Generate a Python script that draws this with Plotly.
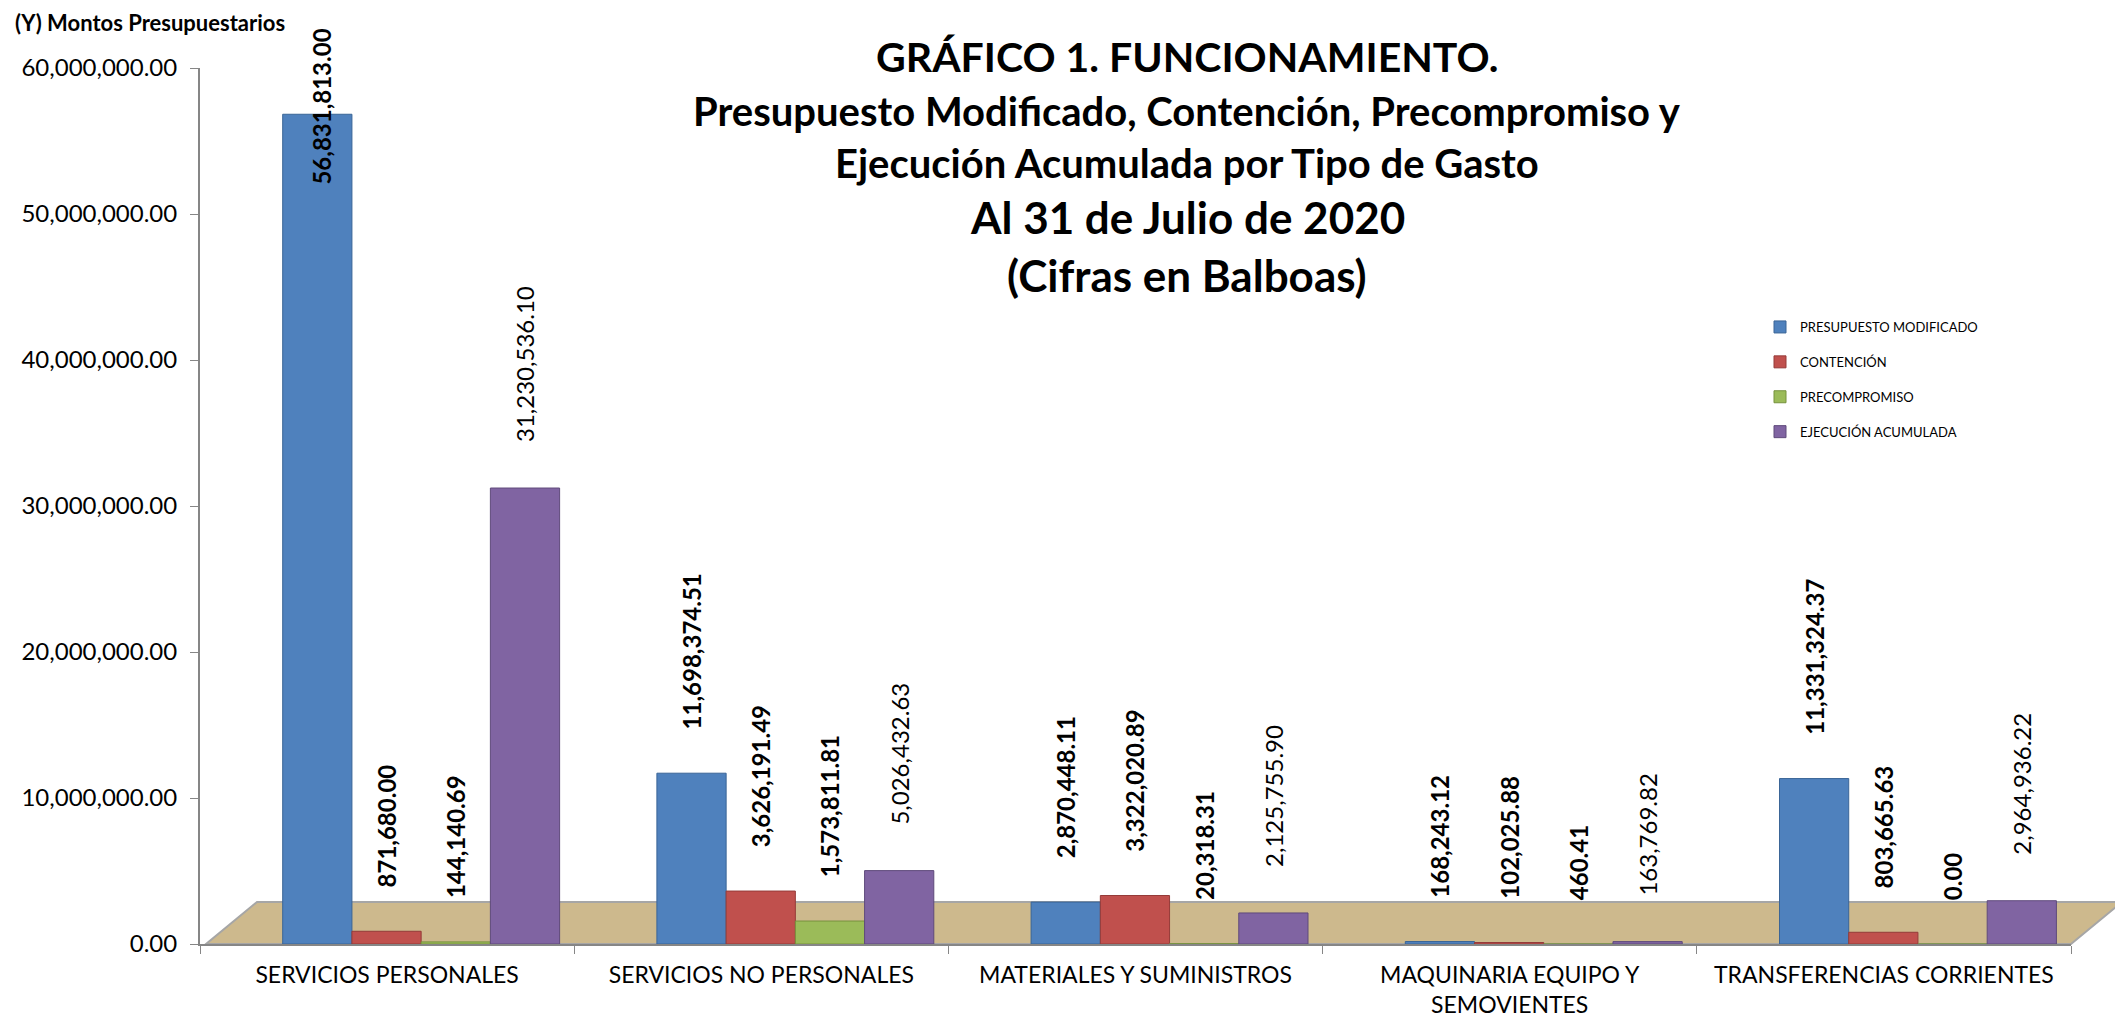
import plotly.graph_objects as go

categories = ["SERVICIOS PERSONALES", "SERVICIOS NO PERSONALES", "MATERIALES Y SUMINISTROS",
              "MAQUINARIA EQUIPO Y<br>SEMOVIENTES", "TRANSFERENCIAS CORRIENTES"]
presupuesto_modificado = [56831813.00, 11698374.51, 2870448.11, 168243.12, 11331324.37]
contencion = [871680.00, 3626191.49, 3322020.89, 102025.88, 803665.63]
precompromiso = [144140.69, 1573811.81, 20318.31, 460.41, 0.00]
ejecucion_acumulada = [31230536.10, 5026432.63, 2125755.90, 163769.82, 2964936.22]
series_names = ["PRESUPUESTO MODIFICADO", "CONTENCIÓN", "PRECOMPROMISO", "EJECUCIÓN ACUMULADA"]
y_ticks = [0, 10000000, 20000000, 30000000, 40000000, 50000000, 60000000]

# screen geometry (browser body has an 8px default margin)
OFF = 8
SW, SH = 2123, 1023
W, H = SW - OFF, SH - OFF
L, R, T, B = 200, 2071, 68, 944   # plot area in screen pixels

def px(x):
    return (x - L) / (R - L)

def py(y):
    return (B - y) / (B - T)

colors = ["#4F81BD", "#C0504D", "#9BBB59", "#8064A2"]
lines = ["#3A6597", "#953B39", "#76923C", "#5F4A7B"]
bold = [True, True, True, False]
series = [presupuesto_modificado, contencion, precompromiso, ejecucion_acumulada]
bw = 0.185
offsets = [-0.279, -0.094, 0.091, 0.276]
pad = "\u00a0" * 7
cat_px = (R - L) / len(categories)

fig = go.Figure()
ann = []
for i, (name, vals) in enumerate(zip(series_names, series)):
    ymax = y_ticks[-1]
    big = [v > 0.9 * ymax for v in vals]
    tmpl = ("<b>" + pad + "%{y:,.2f}</b>") if bold[i] else (pad + "%{y:,.2f}")
    texttemplates = ["" if b else tmpl for b in big]
    fig.add_trace(go.Bar(
        x=categories, y=vals, name=name,
        marker=dict(color=colors[i], line=dict(color=lines[i], width=1)),
        width=bw, offset=offsets[i],
        texttemplate=texttemplates, textposition="outside", textangle=-90,
        constraintext="none", cliponaxis=False,
        textfont=dict(family="Lato", size=24, color="black"),
        legendgroup=name, hoverinfo="skip",
    ))
    for cat, v, b in zip(categories, vals, big):
        if b:
            txt = f"{v:,.2f}"
            if bold[i]:
                txt = "<b>" + txt + "</b>"
            ann.append(dict(text=txt, x=cat, y=v, xref="x", yref="y", textangle=-90,
                            xshift=(offsets[i] + bw / 2) * cat_px + 4, yshift=8,
                            yanchor="middle", xanchor="center", showarrow=False,
                            font=dict(family="Lato", size=24, color="black")))

# floor (decorative)
floor_path = "M {} {} L {} {} L {} {} L {} {} Z".format(
    px(206), py(944), px(2071), py(944), px(2122), py(902), px(257), py(902))
shapes = [dict(type="path", path=floor_path, xref="paper", yref="paper",
               fillcolor="#CDB98D", line=dict(color="#A6A6A6", width=2), layer="below")]

ann.append(dict(text="<b>(Y) Montos Presupuestarios</b>", x=px(13), y=py(23), xref="paper", yref="paper",
                xanchor="left", yanchor="middle", showarrow=False,
                font=dict(family="Lato", size=22, color="black")))
title_lines = [("GRÁFICO 1. FUNCIONAMIENTO.", 41, 57),
               ("Presupuesto Modificado, Contención, Precompromiso y", 40, 111),
               ("Ejecución Acumulada por Tipo de Gasto", 40, 163),
               ("Al 31 de Julio de 2020", 44, 217),
               ("(Cifras en Balboas)", 44, 275)]
for txt, sz, yy in title_lines:
    ann.append(dict(text="<b>" + txt + "</b>", x=px(1187), y=py(yy), xref="paper", yref="paper",
                    xanchor="center", yanchor="middle", showarrow=False,
                    font=dict(family="Lato", size=sz, color="black")))

fig.update_layout(
    width=W, height=H,
    margin=dict(l=L - OFF, r=SW - R, t=T - OFF, b=SH - B, autoexpand=False),
    paper_bgcolor="white", plot_bgcolor="rgba(0,0,0,0)",
    barmode="group", bargap=0.26, bargroupgap=0,
    showlegend=True,
    legend=dict(x=px(1760), y=py(312), xanchor="left", yanchor="top",
                font=dict(family="Lato", size=13, color="black"),
                tracegroupgap=15, bgcolor="rgba(0,0,0,0)", itemwidth=30),
    font=dict(family="Lato", color="black"),
    shapes=shapes, annotations=ann,
    xaxis=dict(showline=True, linecolor="#868686", linewidth=2, ticks="outside", ticklen=8,
               tickcolor="#868686", tickson="boundaries", showgrid=False,
               tickfont=dict(family="Lato", size=23, color="black"), ticklabelstandoff=9,
               fixedrange=True),
    yaxis=dict(range=[0, y_ticks[-1]], tickvals=y_ticks, tickformat=",.2f",
               showline=True, linecolor="#868686", linewidth=2, ticks="outside", ticklen=8,
               tickcolor="#868686", showgrid=False, zeroline=False,
               tickfont=dict(family="Lato", size=24, color="black"), ticklabelstandoff=8),
)

fig.write_html("out.html")
